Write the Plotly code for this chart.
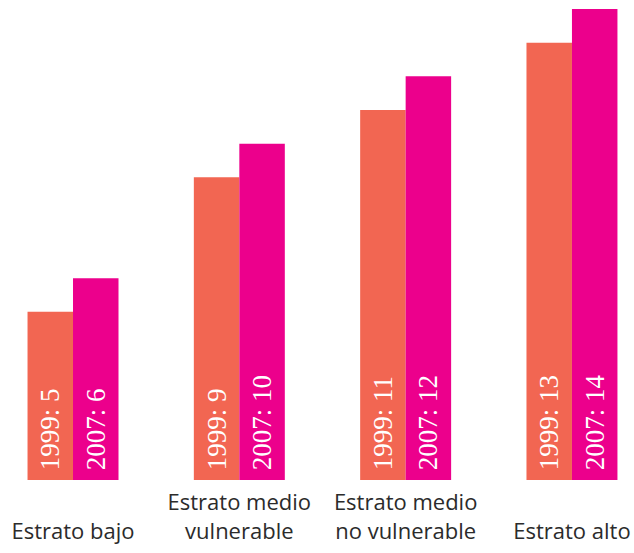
import plotly.graph_objects as go

# Grupos socioeconómicos y valores por año
categorias = ["<br>Estrato bajo", "Estrato medio<br>vulnerable",
              "Estrato medio<br>no vulnerable", "<br>Estrato alto"]
valores_1999 = [5, 9, 11, 13]
valores_2007 = [6, 10, 12, 14]
anios = ["1999", "2007"]
colores = ["#F26652", "#EC008C"]

fig = go.Figure()
for anio, vals, color in zip(anios, [valores_1999, valores_2007], colores):
    fig.add_trace(go.Bar(
        x=categorias,
        y=vals,
        name=anio,
        marker=dict(color=color, line=dict(width=0)),
        text=[f"\u00a0{anio}: {v}" for v in vals],
        textposition="inside",
        insidetextanchor="start",
        textangle=-90,
        constraintext="none",
        textfont=dict(family="Liberation Sans Narrow", size=27, color="white"),
        hoverinfo="skip",
    ))

fig.update_layout(
    width=634,
    height=553,
    margin=dict(l=0, r=0, t=0, b=73),
    barmode="group",
    bargap=0.453,
    bargroupgap=0,
    showlegend=False,
    plot_bgcolor="white",
    paper_bgcolor="white",
    xaxis=dict(
        range=[-0.439, 3.373],
        showgrid=False,
        showline=False,
        ticks="",
        ticklabelstandoff=7,
        tickfont=dict(family="Open Sans", size=22, color="#2b2b2b"),
    ),
    yaxis=dict(
        range=[0, 14.27],
        visible=False,
    ),
)

fig.write_html("out.html")
